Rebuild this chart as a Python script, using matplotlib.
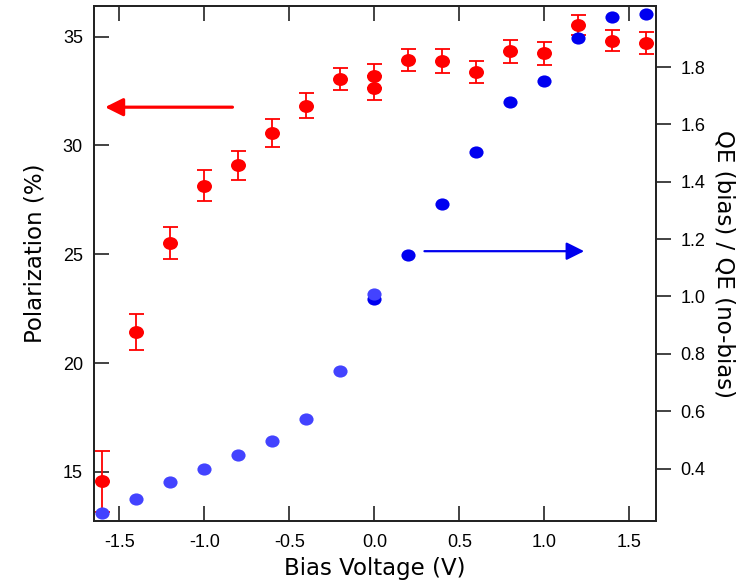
import matplotlib
matplotlib.use("Agg")
import matplotlib.pyplot as plt
import numpy as np
from matplotlib.path import Path
from matplotlib.markers import MarkerStyle

# ---- data ----
bias_a = [-1.6, -1.4, -1.2, -1.0, -0.8, -0.6, -0.4, -0.2, 0.0]
pol_a = [14.56, 21.42, 25.51, 28.14, 29.09, 30.57, 31.82, 33.07, 33.19]
pol_err_a = [1.42, 0.84, 0.75, 0.71, 0.67, 0.66, 0.57, 0.51, 0.55]
qe_a = [0.244, 0.293, 0.354, 0.397, 0.447, 0.496, 0.572, 0.741, 1.008]

bias_b = [0.0, 0.2, 0.4, 0.6, 0.8, 1.0, 1.2, 1.4, 1.6]
pol_b = [32.66, 33.92, 33.87, 33.39, 34.34, 34.24, 35.54, 34.82, 34.70]
pol_err_b = [0.55, 0.52, 0.55, 0.50, 0.53, 0.52, 0.47, 0.50, 0.51]
qe_b = [0.990, 1.143, 1.323, 1.505, 1.677, 1.750, 1.900, 1.974, 1.984]

x_ticks = [-1.5, -1.0, -0.5, 0.0, 0.5, 1.0, 1.5]
x_ticklabels = ["-1.5", "-1.0", "-0.5", "0.0", "0.5", "1.0", "1.5"]
left_ticks = [15, 20, 25, 30, 35]
right_ticks = [0.4, 0.6, 0.8, 1.0, 1.2, 1.4, 1.6, 1.8]
right_ticklabels = ["0.4", "0.6", "0.8", "1.0", "1.2", "1.4", "1.6", "1.8"]

# ---- style ----
RED = "#FF0000"
BLUE_A = "#4343FF"
BLUE_B = "#0000F0"
AX_COL = "#222222"
TICK_FONT = "Liberation Sans"
LABEL_FONT = "DejaVu Sans"

# slightly wide elliptical marker
circ = Path.unit_circle()
ell = Path(circ.vertices * np.array([1.0, 0.86]), circ.codes)
ell_marker = MarkerStyle(ell)

fig = plt.figure(figsize=(7.46, 5.83), dpi=100)
ax = fig.add_axes([0.126, 0.1063, 0.7527, 0.8834])
ax2 = ax.twinx()

ax.set_xlim(-1.65, 1.655)
ax.set_ylim(12.74, 36.41)
ax2.set_ylim(0.217, 2.013)

for xs, ys, es in [(bias_a, pol_a, pol_err_a), (bias_b, pol_b, pol_err_b)]:
    ax.errorbar(xs, ys, yerr=es, fmt="none", ecolor=RED, elinewidth=1.3,
                capsize=5.4, capthick=1.3, zorder=2)
    ax.plot(xs, ys, linestyle="none", marker=ell_marker, markersize=10.8,
            color=RED, markeredgewidth=0, zorder=3)

ax2.plot(bias_b, qe_b, linestyle="none", marker=ell_marker, markersize=10.2,
         color=BLUE_B, markeredgewidth=0, zorder=3)
ax2.plot(bias_a, qe_a, linestyle="none", marker=ell_marker, markersize=10.2,
         color=BLUE_A, markeredgewidth=0, zorder=4)

# arrows indicating which axis each series uses
ax.annotate("", xy=(-1.585, 31.76), xytext=(-0.835, 31.76),
            arrowprops=dict(arrowstyle="-|>,head_length=0.4,head_width=0.2",
                            mutation_scale=27, lw=2.3, color=RED,
                            shrinkA=0, shrinkB=0))
ax2.annotate("", xy=(1.235, 1.158), xytext=(0.295, 1.158),
             arrowprops=dict(arrowstyle="-|>,head_length=0.4,head_width=0.2",
                             mutation_scale=27, lw=1.6, color="#0000EE",
                             shrinkA=0, shrinkB=0))

# ticks
ax.set_xticks(x_ticks)
ax.set_xticklabels(x_ticklabels, fontfamily=TICK_FONT, fontsize=13)
ax.set_yticks(left_ticks)
ax.set_yticklabels([str(t) for t in left_ticks], fontfamily=TICK_FONT, fontsize=13)
ax.tick_params(axis="x", direction="in", length=11, width=1.2, color=AX_COL,
               top=True, bottom=True, pad=9)
ax.tick_params(axis="y", direction="in", length=11, width=1.2, color=AX_COL,
               left=True, right=False, pad=8)
ax2.set_yticks(right_ticks)
ax2.set_yticklabels(right_ticklabels, fontfamily=TICK_FONT, fontsize=13)
ax2.tick_params(axis="y", direction="out", length=11, width=1.2, color=AX_COL,
                pad=7)

for a in (ax, ax2):
    for s in a.spines.values():
        s.set_color(AX_COL)
        s.set_linewidth(1.3)

ax.set_xlabel("Bias Voltage (V)", fontfamily=LABEL_FONT, fontsize=16.5, labelpad=5)
ax.set_ylabel("Polarization (%)", fontfamily=LABEL_FONT, fontsize=16.5, labelpad=15)
ax.yaxis.set_label_coords(-0.085, 0.52)
ax2.set_ylabel("QE (bias) / QE (no-bias)", fontfamily=LABEL_FONT, fontsize=16.5,
               rotation=270, va="bottom", labelpad=5)

fig.savefig("out.png", dpi=100)
